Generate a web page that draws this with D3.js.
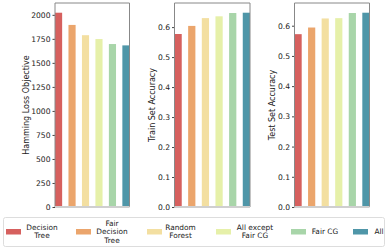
<!DOCTYPE html>
<html>
<head>
<meta charset="utf-8">
<script src="https://cdn.jsdelivr.net/npm/d3@7"></script>
<style>
body { margin: 0; background: #fff; }
text { font-family: "DejaVu Sans", sans-serif; fill: #222; }
</style>
</head>
<body>
<div id="chart"></div>
<script>
// data
var methods = ["Decision Tree", "Fair Decision Tree", "Random Forest", "All except Fair CG", "Fair CG", "All"];
var legendLines = [["Decision", "Tree"], ["Fair", "Decision", "Tree"], ["Random", "Forest"], ["All except", "Fair CG"], ["Fair CG"], ["All"]];
var hammingLoss = [2022, 1895, 1788, 1748, 1696, 1682];
var trainAcc = [0.577, 0.604, 0.630, 0.636, 0.647, 0.648];
var testAcc = [0.572, 0.594, 0.624, 0.625, 0.642, 0.643];
var colors = ["#d6605e", "#eba56c", "#f3dfa1", "#e6f0a9", "#a8d5a9", "#4f96a8"];

var W = 390, H = 250;
var svg = d3.select("#chart").append("svg").attr("width", W).attr("height", H);

var plotTop = 3, plotBottom = 207;

var panels = [
    {x0: 55, x1: 129.5, values: hammingLoss, label: "Hamming Loss Objective", ticks: d3.range(0, 2001, 250), fmt: d3.format("d"), labelX: 29},
    {x0: 174.5, x1: 250, values: trainAcc, label: "Train Set Accuracy", ticks: d3.range(0, 7).map(function(d){ return d / 10; }), fmt: d3.format(".1f"), labelX: 155},
    {x0: 294.5, x1: 369.5, values: testAcc, label: "Test Set Accuracy", ticks: d3.range(0, 7).map(function(d){ return d / 10; }), fmt: d3.format(".1f"), labelX: 275}
];

panels.forEach(function(p) {
    var x = d3.scaleBand().domain(methods).range([p.x0, p.x1]).paddingInner(0.47).paddingOuter(0);
    var y = d3.scaleLinear().domain([0, d3.max(p.values) * 1.05]).range([plotBottom, plotTop]);

    // bars
    svg.append("g").selectAll("rect")
        .data(p.values)
        .enter().append("rect")
        .attr("x", function(d, i){ return x(methods[i]); })
        .attr("y", function(d){ return y(d); })
        .attr("width", x.bandwidth())
        .attr("height", function(d){ return plotBottom - y(d); })
        .attr("fill", function(d, i){ return colors[i]; });

    // y axis
    var ax = svg.append("g")
        .attr("transform", "translate(" + p.x0 + ",0)")
        .call(d3.axisLeft(y).tickValues(p.ticks).tickFormat(p.fmt).tickSize(2.5).tickPadding(2));
    ax.select(".domain").remove();
    ax.selectAll(".tick line").attr("stroke", "#444");
    ax.selectAll(".tick text").attr("font-size", 7.6).attr("font-family", "DejaVu Sans").attr("fill", "#222");

    // frame
    svg.append("path")
        .attr("d", "M" + p.x0 + "," + plotBottom + "V" + plotTop + "H" + p.x1 + "V" + plotBottom)
        .attr("fill", "none").attr("stroke", "#888").attr("stroke-width", 1);
    svg.append("line")
        .attr("x1", p.x0).attr("x2", p.x1).attr("y1", plotBottom).attr("y2", plotBottom)
        .attr("stroke", "#cfcfcf").attr("stroke-width", 2);

    // y label
    svg.append("text")
        .attr("transform", "translate(" + p.labelX + "," + ((plotTop + plotBottom) / 2) + ") rotate(-90)")
        .attr("text-anchor", "middle")
        .attr("font-size", 8)
        .text(p.label);
});

// legend
svg.append("rect")
    .attr("x", 3.5).attr("y", 217.5).attr("width", 381).attr("height", 29)
    .attr("rx", 2).attr("fill", "#fff").attr("stroke", "#ddd");

var patchX = [6, 76, 147, 216, 291, 353];
var textX = [42, 112, 180.5, 255, 325, 379];
var legend = svg.append("g").selectAll("g")
    .data(methods)
    .enter().append("g");

legend.append("rect")
    .attr("x", function(d, i){ return patchX[i]; })
    .attr("y", 229)
    .attr("width", 15).attr("height", 5.5)
    .attr("fill", function(d, i){ return colors[i]; });

legend.each(function(d, i) {
    var lines = legendLines[i];
    var g = d3.select(this);
    lines.forEach(function(l, j) {
        g.append("text")
            .attr("x", textX[i])
            .attr("y", 231.5 + (j - (lines.length - 1) / 2) * 8.5)
            .attr("dy", "0.35em")
            .attr("text-anchor", "middle")
            .attr("font-size", 7.4)
            .text(l);
    });
});
</script>
</body>
</html>
